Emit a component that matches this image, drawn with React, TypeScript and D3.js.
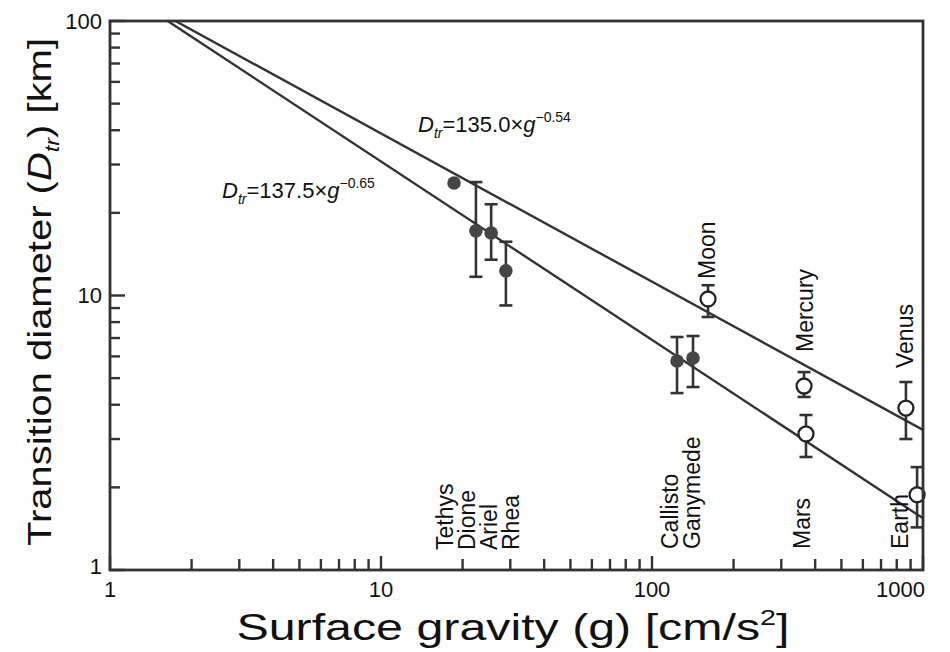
import React from "react";
import * as d3 from "d3";

// surface gravity g [cm/s^2] and transition diameter D [km]
const satNames = ["Tethys", "Dione", "Ariel", "Rhea", "Callisto", "Ganymede"];
const satG = [18.6, 22.4, 25.5, 28.9, 123.7, 141.7];
const satD = [25.7, 17.2, 16.9, 12.3, 5.77, 5.92];
const satHi = [null, 25.9, 21.5, 15.7, 7.06, 7.12];
const satLo = [null, 11.7, 13.5, 9.2, 4.41, 4.64];

const planetNames = ["Moon", "Mercury", "Mars", "Venus", "Earth"];
const planetG = [161, 364, 370, 865, 951];
const planetD = [9.71, 4.68, 3.13, 3.89, 1.88];
const planetHi = [10.9, 5.26, 3.67, 4.84, 2.37];
const planetLo = [8.35, 4.27, 2.58, 3.0, 1.43];

// fitted power laws D = a * g^b
const fitA = [135.0, 137.5];
const fitB = [-0.54, -0.65];

const xTicks = [1, 10, 100, 1000];
const yTicks = [1, 10, 100];

const W = 950;
const H = 652;
const left = 110, right = 923, top = 21, bottom = 570;
const ink = "#333";
const font = "'Liberation Sans', Arial, Helvetica, sans-serif";

const x = d3.scaleLog().domain([1, 1000]).range([left, right]);
const y = d3.scaleLog().domain([1, 100]).range([bottom, top]);

// minor ticks 2..9 for every decade
const minorX = d3.range(0, 3).flatMap((e) => d3.range(2, 10).map((m) => m * 10 ** e));
const minorY = d3.range(0, 2).flatMap((e) => d3.range(2, 10).map((m) => m * 10 ** e));

// rotated name labels: [text, baseline x, start y]
const nameLabels: [string, number, number][] = [
  ["Tethys", 453, 550],
  ["Dione", 475, 550],
  ["Ariel", 497, 550],
  ["Rhea", 519, 550],
  ["Callisto", 678, 549],
  ["Ganymede", 700, 549],
  ["Mars", 810, 549],
  ["Earth", 908, 549],
  ["Moon", 715, 279],
  ["Mercury", 813, 352],
  ["Venus", 913, 368],
];

const ErrBar = ({ g, lo, hi }: { g: number; lo: number; hi: number }) => {
  const cx = x(g);
  return (
    <g stroke={ink} strokeWidth={2.6}>
      <line x1={cx} x2={cx} y1={y(hi)} y2={y(lo)} />
      <line x1={cx - 6.5} x2={cx + 6.5} y1={y(hi)} y2={y(hi)} />
      <line x1={cx - 6.5} x2={cx + 6.5} y1={y(lo)} y2={y(lo)} />
    </g>
  );
};

const Equation = ({ a, b, tx, ty }: { a: number; b: number; tx: number; ty: number }) => (
  <text x={tx} y={ty} fontSize={22} fontFamily={font} fill="#111">
    <tspan fontStyle="italic">D</tspan>
    <tspan fontStyle="italic" fontSize={14} dy={6}>tr</tspan>
    <tspan dy={-6}>={a.toFixed(1)}×</tspan>
    <tspan fontStyle="italic">g</tspan>
    <tspan fontSize={14} dy={-10}>{"\u2212" + Math.abs(b).toFixed(2).replace(/^0/, "0")}</tspan>
  </text>
);

export default function App() {
  const fitLines = fitA.map((a, i) => {
    const b = fitB[i];
    const gStart = Math.pow(100 / a, 1 / b);
    const gs = [gStart, 1000];
    return gs.map((g) => [x(g), y(a * Math.pow(g, b))] as [number, number]);
  });
  const line = d3.line();

  return (
    <svg
      width={W}
      height={H}
      style={{ position: "absolute", left: 0, top: 0, background: "#fff" }}
      fontFamily={font}
    >
      <rect width={W} height={H} fill="#fff" />
      <defs>
        <clipPath id="plot">
          <rect x={left} y={top} width={right - left} height={bottom - top} />
        </clipPath>
      </defs>

      {/* fit lines */}
      <g clipPath="url(#plot)">
        {fitLines.map((pts, i) => (
          <path key={i} d={line(pts) || ""} fill="none" stroke={ink} strokeWidth={2.4} />
        ))}
      </g>

      {/* error bars */}
      {satG.map((g, i) =>
        satHi[i] == null ? null : <ErrBar key={"se" + i} g={g} lo={satLo[i] as number} hi={satHi[i] as number} />
      )}
      {planetG.map((g, i) => (
        <ErrBar key={"pe" + i} g={g} lo={planetLo[i]} hi={planetHi[i]} />
      ))}

      {/* satellites: filled markers */}
      {satG.map((g, i) => (
        <circle key={"s" + i} cx={x(g)} cy={y(satD[i])} r={6.8} fill="#454545" />
      ))}
      {/* planets: open markers */}
      {planetG.map((g, i) => (
        <circle
          key={"p" + i}
          cx={x(g)}
          cy={y(planetD[i])}
          r={7.5}
          fill="#fff"
          stroke="#222"
          strokeWidth={2.3}
        />
      ))}

      {/* frame */}
      <rect
        x={left}
        y={top}
        width={right - left}
        height={bottom - top}
        fill="none"
        stroke={ink}
        strokeWidth={2.8}
      />

      {/* x ticks (inside, pointing up) */}
      {minorX.map((v) => (
        <line key={"mx" + v} x1={x(v)} x2={x(v)} y1={bottom} y2={bottom - 11} stroke={ink} strokeWidth={2.4} />
      ))}
      {xTicks.map((v) => (
        <line key={"tx" + v} x1={x(v)} x2={x(v)} y1={bottom} y2={bottom - 14} stroke={ink} strokeWidth={2.4} />
      ))}
      {/* y ticks (inside, pointing right) */}
      {minorY.map((v) => (
        <line key={"my" + v} x1={left} x2={left + 10} y1={y(v)} y2={y(v)} stroke={ink} strokeWidth={2.4} />
      ))}
      {yTicks.map((v) => (
        <line key={"ty" + v} x1={left} x2={left + 15} y1={y(v)} y2={y(v)} stroke={ink} strokeWidth={2.4} />
      ))}

      {/* tick labels */}
      {xTicks.map((v, i) => (
        <text
          key={"lx" + v}
          x={i === xTicks.length - 1 ? right + 2 : x(v)}
          y={597}
          fontSize={22}
          textAnchor={i === xTicks.length - 1 ? "end" : "middle"}
          fill="#111"
        >
          {v}
        </text>
      ))}
      {yTicks.map((v) => (
        <text
          key={"ly" + v}
          x={102}
          y={y(v) + (v === 1 ? -4 : 0)}
          fontSize={22}
          textAnchor="end"
          dominantBaseline="central"
          fill="#111"
        >
          {v}
        </text>
      ))}

      {/* name labels */}
      {nameLabels.map(([t, lx, ly]) => (
        <text
          key={t}
          transform={`translate(${lx},${ly}) rotate(-90)`}
          fontSize={23}
          fill="#111"
        >
          {t}
        </text>
      ))}

      {/* equations */}
      <Equation a={fitA[0]} b={fitB[0]} tx={418} ty={132} />
      <Equation a={fitA[1]} b={fitB[1]} tx={222} ty={198} />

      {/* axis titles */}
      <text x={513} y={640} fontSize={37} textAnchor="middle" fill="#111" textLength={553} lengthAdjust="spacingAndGlyphs">
        Surface gravity (g) [cm/s
        <tspan fontSize={22} dy={-15}>2</tspan>
        <tspan dy={15}>]</tspan>
      </text>
      <text
        transform="translate(51,292) rotate(-90)"
        fontSize={34}
        textAnchor="middle"
        fill="#111"
        textLength={508}
        lengthAdjust="spacingAndGlyphs"
      >
        Transition diameter (<tspan fontStyle="italic">D</tspan>
        <tspan fontStyle="italic" fontSize={20} dy={8}>tr</tspan>
        <tspan dy={-8}>) [km]</tspan>
      </text>
    </svg>
  );
}
